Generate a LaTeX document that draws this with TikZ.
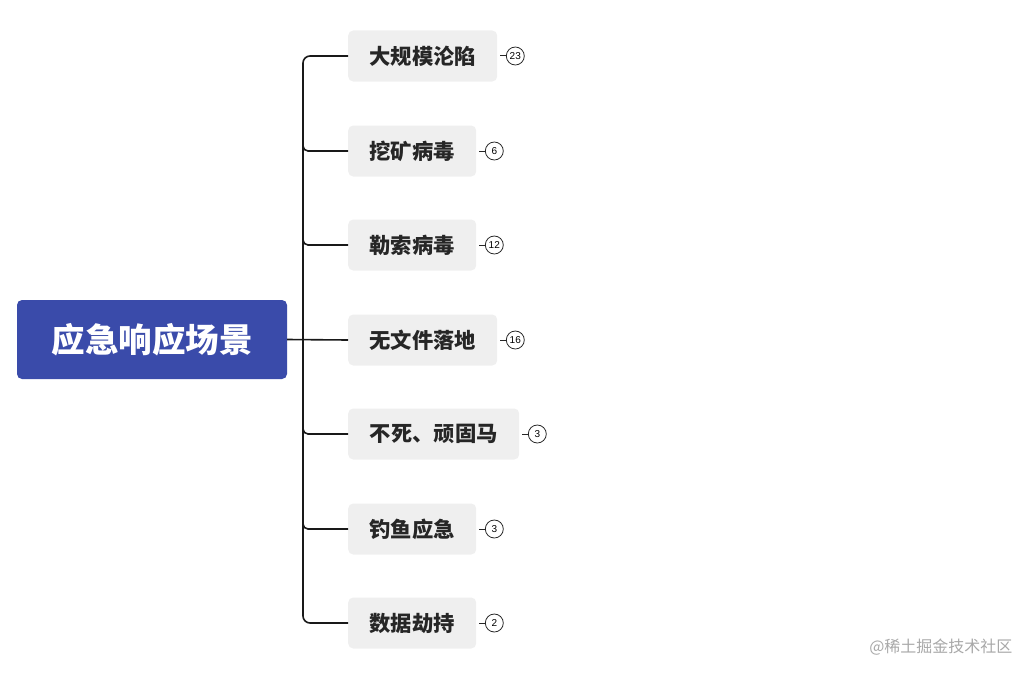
\documentclass[tikz,border=0pt]{standalone}
\usepackage{fontspec}
\setmainfont{Noto Sans CJK SC}
\newfontfamily\cjk{Noto Sans CJK SC}
\newfontfamily\numfont{Liberation Sans}
\definecolor{rootblue}{HTML}{3A4BAA}
\definecolor{boxgray}{HTML}{EFEFEF}
\definecolor{wm}{HTML}{A8A8A8}
\begin{document}
\begin{tikzpicture}[x=1pt,y=-1pt,
  rootbox/.style={fill=rootblue,rounded corners=5pt,minimum width=270pt,minimum height=79pt,inner sep=0pt,text=white,font=\cjk\bfseries\fontsize{33.5}{35}\selectfont},
  childbox/.style={fill=boxgray,rounded corners=5pt,minimum height=51pt,inner sep=0pt,anchor=west,font=\cjk\bfseries\fontsize{21.3}{23}\selectfont,text=black!85},
  badge/.style={circle,draw=black!85,line width=0.8pt,minimum size=18pt,inner sep=0pt,font=\numfont\fontsize{10}{10}\selectfont},
  link/.style={line width=1.6pt,draw=black!90},
  blink/.style={line width=1pt,draw=black!85}]
\useasboundingbox (0,0) rectangle (1035,677);
\node[rootbox] (root) at (152,339.5) {应急响应场景};
\node[childbox,minimum width=149pt] (c1) at (348,56) {大规模沦陷};
\node[childbox,minimum width=128pt] (c2) at (348,151) {挖矿病毒};
\node[childbox,minimum width=128pt] (c3) at (348,245) {勒索病毒};
\node[childbox,minimum width=149pt] (c4) at (348,340) {无文件落地};
\node[childbox,minimum width=171pt] (c5) at (348,434) {不死、顽固马};
\node[childbox,minimum width=128pt] (c6) at (348,529) {钓鱼应急};
\node[childbox,minimum width=128pt] (c7) at (348,623) {数据劫持};
\foreach \i/\n in {1/23,2/6,3/12,4/16,5/3,6/3,7/2}{
  \node[badge,anchor=west] (b\i) at ([xshift=8.5pt]c\i.east) {\n};
  \draw[blink] ([xshift=3pt]c\i.east) -- (b\i.west);
}
\coordinate (t1) at (303,56);
\coordinate (t7) at (303,623);
\draw[link,rounded corners=7pt] (c1.west) -- (t1) -- (t7) -- (c7.west);
\foreach \i in {2,3,5,6}{
  \draw[link,rounded corners=5pt] (303,{\i*94.5-38.5}) |- (c\i.west);
}
\draw[link] (root.east) -- (c4.west);
\node[font=\cjk\fontsize{16}{18}\selectfont,text=wm,anchor=east] (wmk) at (1016,647) {@稀土掘金技术社区};
\end{tikzpicture}
\end{document}
